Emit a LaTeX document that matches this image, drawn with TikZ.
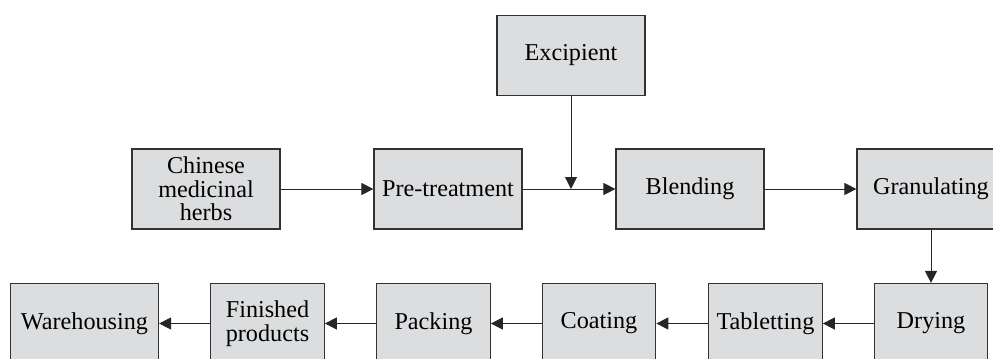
\documentclass[tikz,border=0pt]{standalone}
\usepackage{fontspec}
\setmainfont{Liberation Serif}
\usetikzlibrary{arrows.meta}
\definecolor{boxgray}{RGB}{220,221,223}
\definecolor{linegray}{RGB}{50,50,50}
\tikzset{
  stepbox/.style={draw=linegray, line width=0.6pt, fill=boxgray, align=center,
    inner sep=1pt, minimum width=74pt, minimum height=40pt,
    font=\fontsize{12.1}{11.7}\selectfont},
  narrow/.style={minimum width=56.75pt}
}
\begin{document}
\begin{tikzpicture}[x=0.5pt,y=-0.5pt]
        \clip (0,0) rectangle (993,359);

        \begin{scope}[every node/.style={stepbox}]
          \node (1)  at (206,189)    {Chinese\\medicinal\\herbs};
          \node (2)  at (448,189)    {Pre-treatment};
          \node (3)  at (571,55.5)   {Excipient};
          \node (4)  at (690,189)    {Blending};
          \node (5)  at (931,189)    {Granulating};
          \node[narrow] (6)  at (931,323.5)  {Drying};
          \node[narrow] (7)  at (765.5,323.5) {Tabletting};
          \node[narrow] (8)  at (599,323.5)  {Coating};
          \node[narrow] (9)  at (433.5,323.5) {Packing};
          \node[narrow] (10) at (267.5,323.5) {Finished\\products};
          \node (11) at (84.5,323.5)  {Warehousing};
        \end{scope}
        \coordinate (j) at (571,189);

        \begin{scope}[every edge/.style={draw=black!85, line width=0.5pt,
            -{Triangle[length=6pt,width=6pt]}}]
          \path (1)  edge (2);
          \path (2)  edge (4);
          \path (3)  edge (j);
          \path (4)  edge (5);
          \path (5)  edge (6);
          \path (6)  edge (7);
          \path (7)  edge (8);
          \path (8)  edge (9);
          \path (9)  edge (10);
          \path (10) edge (11);
        \end{scope}

      \end{tikzpicture}
\end{document}
